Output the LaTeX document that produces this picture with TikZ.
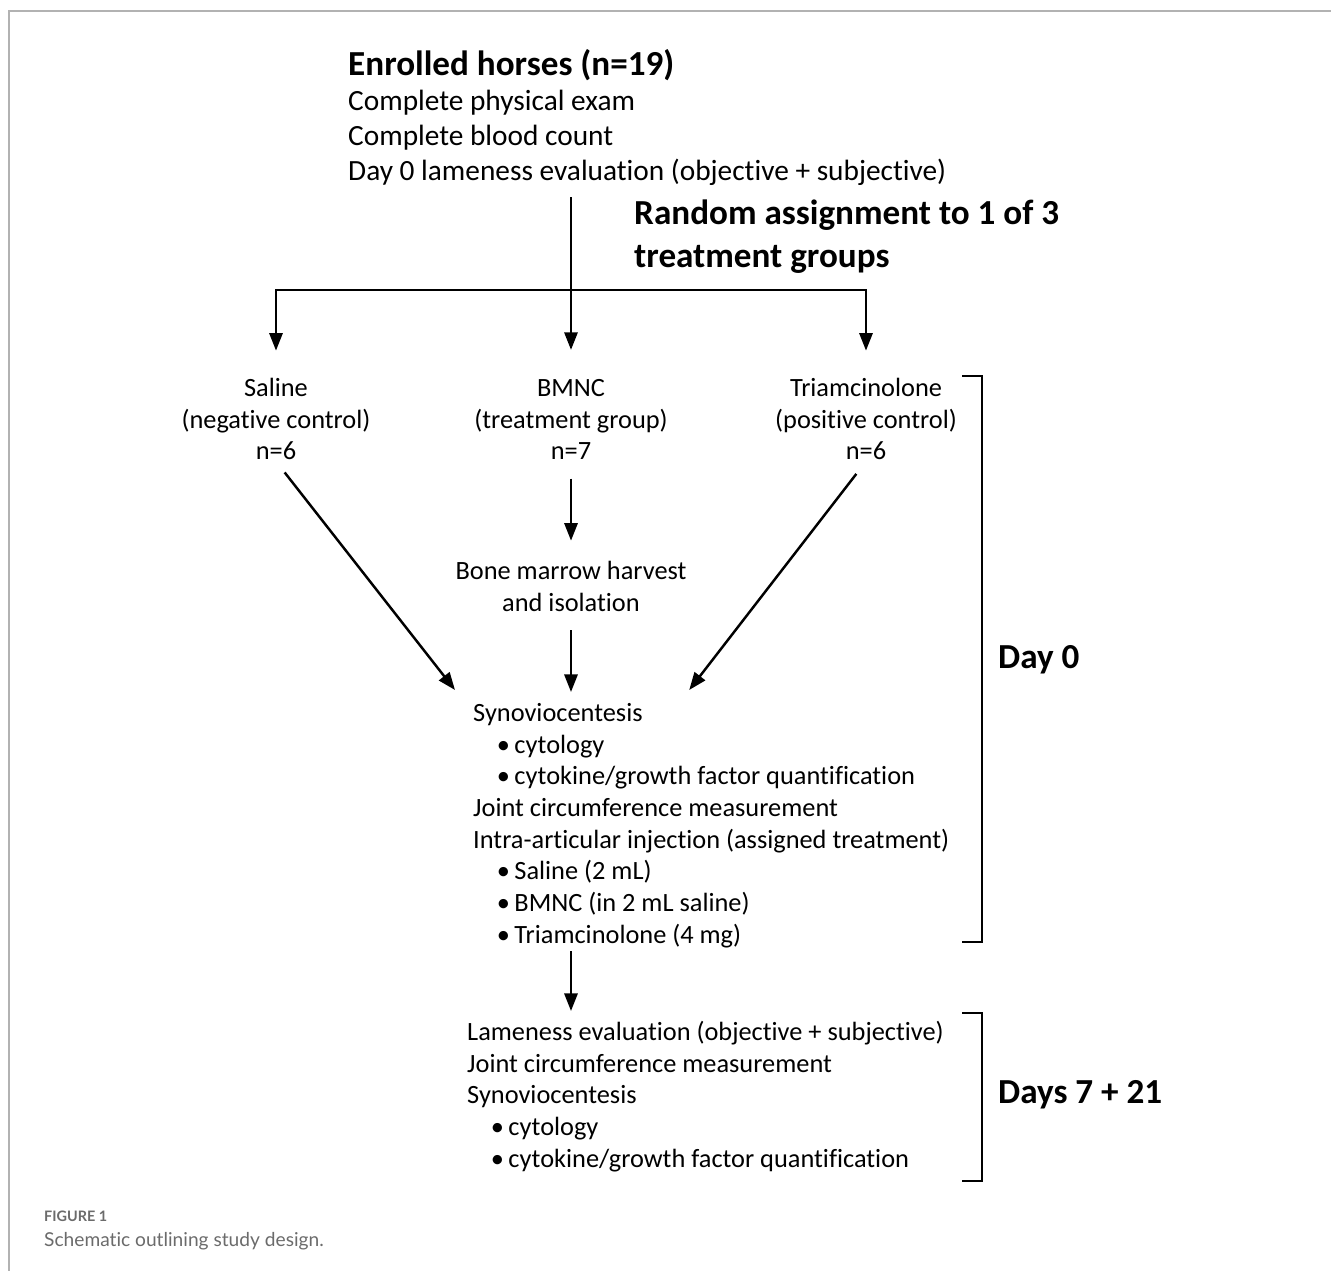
\documentclass[tikz,border=0pt]{standalone}
\usepackage{fontspec}
\setmainfont[Ligatures={NoCommon}]{Carlito}
\newfontfamily\capfont[Ligatures={NoCommon}]{Lato}
\usetikzlibrary{arrows.meta,positioning,calc}

\begin{document}
\begin{tikzpicture}[x=0.02cm,y=-0.02cm,line width=1.4pt,
  txt/.style={inner sep=0pt,font=\fontsize{15}{18.05}\selectfont},
  list/.style={txt,align=left,anchor=north west},
  group/.style={txt,align=center,anchor=north},
  head/.style={inner sep=0pt,font=\fontsize{20}{24.4}\selectfont\bfseries},
  arr/.style={-{Triangle[length=10pt,width=7.5pt]}},
  captext/.style={inner sep=0pt,anchor=base west,text=black!58}]
\useasboundingbox (0,0) rectangle (1331,1271);
\draw[black!30,line width=1pt] (1331,11) -- (9,11) -- (9,1271);
% enrolment
\node[list,font=\fontsize{16.7}{19.9}\selectfont] (enrolled) at (347,48)
  {{\fontsize{20}{22}\selectfont\bfseries Enrolled horses (n=19)}\\[0.4pt]
   Complete physical exam\\
   Complete blood count\\
   Day 0 lameness evaluation (objective + subjective)};
\node[head,align=left,anchor=north west] (random) at (633,199)
  {Random assignment to 1 of 3\\ treatment groups};
\coordinate (top) at (571,197);
\coordinate (split) at (571,290);
% groups
\node[group] (saline) at (276,377) {Saline\\ (negative control)\\ n=6};
\node[group] (bmnc) at (571,378) {BMNC\\ (treatment group)\\ n=7};
\node[group] (triam) at (866,377) {Triamcinolone\\ (positive control)\\ n=6};
\node[group] (marrow) at (571,560) {Bone marrow harvest\\ and isolation};
\node[list] (synov) at (472,702)
  {Synoviocentesis\\
   \hspace*{0.9em}\textbullet\,cytology\\
   \hspace*{0.9em}\textbullet\,cytokine/growth factor quantification\\
   Joint circumference measurement\\
   Intra-articular injection (assigned treatment)\\
   \hspace*{0.9em}\textbullet\,Saline (2 mL)\\
   \hspace*{0.9em}\textbullet\,BMNC (in 2 mL saline)\\
   \hspace*{0.9em}\textbullet\,Triamcinolone (4 mg)};
\node[list] (later) at (466,1020)
  {Lameness evaluation (objective + subjective)\\
   Joint circumference measurement\\
   Synoviocentesis\\
   \hspace*{0.9em}\textbullet\,cytology\\
   \hspace*{0.9em}\textbullet\,cytokine/growth factor quantification};
\node[head,anchor=base west] (day0) at (997,668) {Day 0};
\node[head,anchor=base west] (days) at (997,1103) {Days 7 + 21};
% connectors
\draw (top) -- (split);
\draw[arr,shorten >=16pt] (split) -- (bmnc.north);
\draw[arr,shorten >=15pt] (split) -| (saline.north);
\draw[arr,shorten >=15pt] (split) -| (triam.north);
\draw[arr,shorten <=10pt,shorten >=11pt] (bmnc.south) -- (marrow.north);
\draw[arr,shorten <=10pt] (marrow.south) -- (marrow.south |- {$(synov.north)+(0,-10)$});
\draw[arr,shorten <=8pt] (saline.south) -- ($(synov.north west)+(-17,-12)$);
\draw[arr,shorten <=9pt] (triam.south) -- ($(synov.north)+(-22,-12)$);
\draw[arr] (synov.south -| marrow.south) ++(0,2) -- ($(later.north -| marrow.south)+(0,-9)$);
% brackets
\draw (962,376) -| (982,942) -- (962,942);
\draw (962,1013) -| (982,1181) -- (962,1181);
% caption
\node[captext,font=\capfont\fontsize{8.2}{10}\selectfont\bfseries] (fig) at (43,1221) {FIGURE 1};
\node[captext,font=\capfont\fontsize{10.9}{14}\selectfont] (caption) at (43,1246) {Schematic outlining study design.};
\end{tikzpicture}
\end{document}
